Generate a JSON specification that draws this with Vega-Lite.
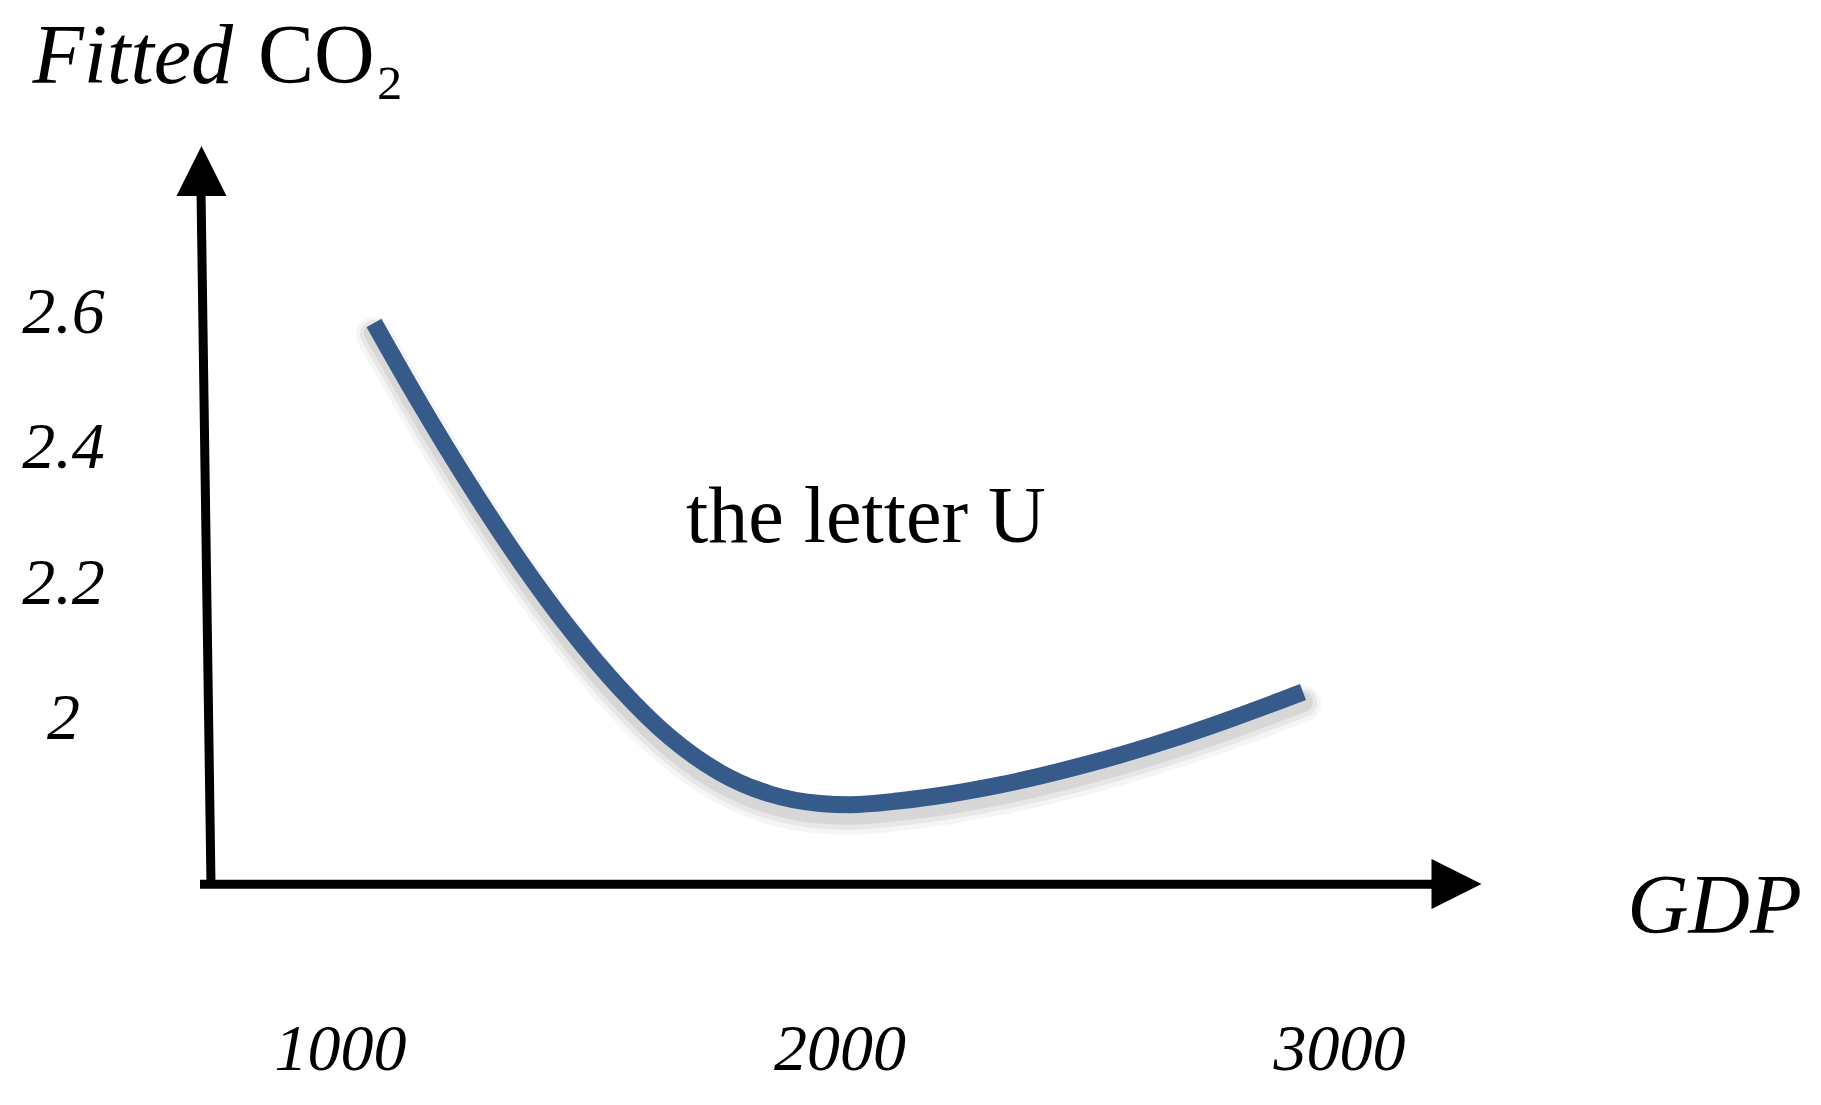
{
  "$schema": "https://vega.github.io/schema/vega-lite/v6.json",
  "width": 1821,
  "height": 1105,
  "padding": 0,
  "autosize": {"type": "fit", "contains": "padding"},
  "background": "white",
  "config": {"view": {"stroke": null}},
  "datasets": {
    "curve": [
      {"GDP": 1068.1, "CO2": 2.5845},
      {"GDP": 1160.2, "CO2": 2.4657},
      {"GDP": 1260.3, "CO2": 2.3446},
      {"GDP": 1360.4, "CO2": 2.2328},
      {"GDP": 1460.5, "CO2": 2.1324},
      {"GDP": 1560.6, "CO2": 2.0450},
      {"GDP": 1660.7, "CO2": 1.9730},
      {"GDP": 1760.8, "CO2": 1.9210},
      {"GDP": 1860.9, "CO2": 1.8893},
      {"GDP": 1961.0, "CO2": 1.8753},
      {"GDP": 2021.0, "CO2": 1.8735},
      {"GDP": 2121.1, "CO2": 1.8794},
      {"GDP": 2221.2, "CO2": 1.8893},
      {"GDP": 2321.3, "CO2": 1.9027},
      {"GDP": 2481.5, "CO2": 1.9305},
      {"GDP": 2681.7, "CO2": 1.9742},
      {"GDP": 2881.9, "CO2": 2.0269},
      {"GDP": 2927.9, "CO2": 2.0399}
    ]
  },
  "encoding": {
    "x": {
      "field": "GDP", "type": "quantitative",
      "scale": {"domain": [319.3, 3965.0], "nice": false, "zero": false},
      "axis": {
        "orient": "bottom", "values": [1000, 2000, 3000], "format": "d",
        "domain": false, "ticks": false, "tickSize": 0, "grid": false,
        "labelFont": "Liberation Serif", "labelFontStyle": "italic", "labelFontSize": 66,
        "labelColor": "black", "labelPadding": 0, "offset": -56,
        "labelBaseline": "middle", "labelAlign": "center", "title": null
      }
    },
    "y": {
      "field": "CO2", "type": "quantitative",
      "scale": {"domain": [1.43026, 3.06125], "nice": false, "zero": false},
      "axis": {
        "orient": "left", "values": [2, 2.2, 2.4, 2.6], "format": "~g",
        "domain": false, "ticks": false, "tickSize": 0, "grid": false,
        "labelFont": "Liberation Serif", "labelFontStyle": "italic", "labelFontSize": 66,
        "labelColor": "black", "labelPadding": 0, "offset": -63,
        "labelBaseline": "middle", "labelAlign": "center", "title": null
      }
    }
  },
  "layer": [
    {
      "data": {"values": [
        {"GDP": 741.7, "CO2": 1.7565, "GDP2": 721.7, "CO22": 2.7808},
        {"GDP": 719.7, "CO2": 1.7560, "GDP2": 3192.2, "CO22": 1.7560}
      ]},
      "mark": {"type": "rule", "color": "black", "strokeWidth": 9},
      "encoding": {"x2": {"field": "GDP2"}, "y2": {"field": "CO22"}}
    },
    {
      "data": {"values": [{"GDP": 722.7, "CO2": 2.8089}]},
      "mark": {"type": "point", "shape": "M0,-1L-1,1L1,1Z", "size": 2500, "filled": true, "color": "black", "opacity": 1}
    },
    {
      "data": {"values": [{"GDP": 3235.2, "CO2": 1.7564}]},
      "mark": {"type": "point", "shape": "M1,0L-1,-1L-1,1Z", "size": 2500, "filled": true, "color": "black", "opacity": 1}
    },
    {
      "data": {"name": "curve"},
      "mark": {"type": "line", "interpolate": "monotone", "color": "#808080", "strokeWidth": 36, "opacity": 0.08, "yOffset": 12, "strokeCap": "round"}
    },
    {
      "data": {"name": "curve"},
      "mark": {"type": "line", "interpolate": "monotone", "color": "#808080", "strokeWidth": 28, "opacity": 0.12, "yOffset": 11, "strokeCap": "round"}
    },
    {
      "data": {"name": "curve"},
      "mark": {"type": "line", "interpolate": "monotone", "color": "#808080", "strokeWidth": 20, "opacity": 0.16, "yOffset": 10, "strokeCap": "round"}
    },
    {
      "data": {"name": "curve"},
      "mark": {"type": "line", "interpolate": "monotone", "color": "#365a8a", "strokeWidth": 17, "strokeCap": "butt"}
    },
    {
      "data": {"values": [{"GDP": 2053, "CO2": 2.2617, "label": "the letter U"}]},
      "mark": {"type": "text", "font": "Liberation Serif", "fontSize": 80, "align": "center", "baseline": "alphabetic", "color": "black"},
      "encoding": {"text": {"field": "label"}}
    },
    {
      "data": {"values": [{"GDP": 785.8, "CO2": 2.9383, "label": "Fitted"}]},
      "mark": {"type": "text", "font": "Liberation Serif", "fontStyle": "italic", "fontSize": 84, "align": "right", "baseline": "alphabetic", "color": "black"},
      "encoding": {"text": {"field": "label"}}
    },
    {
      "data": {"values": [{"GDP": 836, "CO2": 2.9383, "label": "CO₂"}]},
      "mark": {"type": "text", "font": "Liberation Serif", "fontSize": 84, "align": "left", "baseline": "alphabetic", "color": "black"},
      "encoding": {"text": {"field": "label"}}
    },
    {
      "data": {"values": [{"GDP": 3751.8, "CO2": 1.6837, "label": "GDP"}]},
      "mark": {"type": "text", "font": "Liberation Serif", "fontStyle": "italic", "fontSize": 85, "align": "center", "baseline": "alphabetic", "color": "black"},
      "encoding": {"text": {"field": "label"}}
    }
  ]
}
